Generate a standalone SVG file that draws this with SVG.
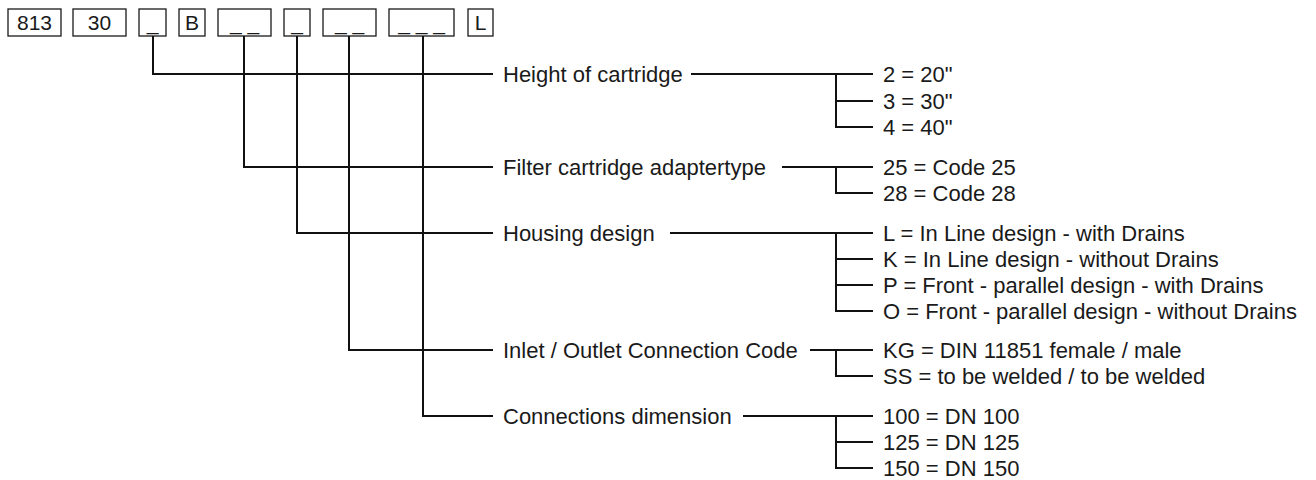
<svg xmlns="http://www.w3.org/2000/svg" width="1316" height="480" viewBox="0 0 1316 480">
<style>
  .box rect{fill:#fff;stroke:#1a1a1a;stroke-width:1.3}
  text{font-family:"Liberation Sans",Arial,sans-serif;fill:#1a1a1a}
  .bt{font-size:21px;text-anchor:middle}
  .lbl{font-size:22px}
  .opt{font-size:22px}
  #connectors path{fill:none;stroke:#111;stroke-width:2}
</style>
<rect width="1316" height="480" fill="#fff"/>
<g id="code">
  <g id="b813" class="box"><rect x="8" y="9" width="53" height="27"/><text class="bt" x="34.5" y="30">813</text></g>
  <g id="b30" class="box"><rect x="73" y="9" width="53" height="27"/><text class="bt" x="99.5" y="30">30</text></g>
  <g id="bh" class="box"><rect x="139" y="9" width="27" height="27"/><text class="bt" x="152.5" y="30">_</text></g>
  <g id="bB" class="box"><rect x="179" y="9" width="26" height="27"/><text class="bt" x="192" y="30">B</text></g>
  <g id="ba" class="box"><rect x="218" y="9" width="53" height="27"/><text class="bt" x="244.5" y="30">_ _</text></g>
  <g id="bhd" class="box"><rect x="284" y="9" width="26" height="27"/><text class="bt" x="297" y="30">_</text></g>
  <g id="bc" class="box"><rect x="323" y="9" width="53" height="27"/><text class="bt" x="349.5" y="30">_ _</text></g>
  <g id="bd" class="box"><rect x="389" y="9" width="65" height="27"/><text class="bt" x="421.5" y="30">_ _ _</text></g>
  <g id="bL" class="box"><rect x="468" y="9" width="25" height="27"/><text class="bt" x="480.5" y="30">L</text></g>
</g>
<g id="connectors">
  <path d="M153 36V74H493"/>
  <path d="M244 36V167H493"/>
  <path d="M297 36V233H493"/>
  <path d="M349 36V350H493"/>
  <path d="M423 36V416H493"/>
  <path d="M691 74H873M836 74V127H873M836 101H873"/>
  <path d="M782 167H873M836 167V193H873"/>
  <path d="M670 233H873M836 233V311H873M836 259H873M836 285H873"/>
  <path d="M810 350H873M836 350V376H873"/>
  <path d="M743 416H873M836 416V468H873M836 442H873"/>
</g>
<g id="height">
  <text class="lbl" x="503" y="82">Height of cartridge</text>
  <text class="opt" x="883" y="82">2 = 20"</text>
  <text class="opt" x="883" y="109">3 = 30"</text>
  <text class="opt" x="883" y="135">4 = 40"</text>
</g>
<g id="adapter">
  <text class="lbl" x="503" y="175">Filter cartridge adaptertype</text>
  <text class="opt" x="883" y="175">25 = Code 25</text>
  <text class="opt" x="883" y="201">28 = Code 28</text>
</g>
<g id="housing">
  <text class="lbl" x="503" y="241">Housing design</text>
  <text class="opt" x="883" y="241">L = In Line design - with Drains</text>
  <text class="opt" x="883" y="267">K = In Line design - without Drains</text>
  <text class="opt" x="883" y="293">P = Front - parallel design - with Drains</text>
  <text class="opt" x="883" y="319">O = Front - parallel design - without Drains</text>
</g>
<g id="connection">
  <text class="lbl" x="503" y="358">Inlet / Outlet Connection Code</text>
  <text class="opt" x="883" y="358">KG = DIN 11851 female / male</text>
  <text class="opt" x="883" y="384">SS = to be welded / to be welded</text>
</g>
<g id="dimension">
  <text class="lbl" x="503" y="424">Connections dimension</text>
  <text class="opt" x="883" y="424">100 = DN 100</text>
  <text class="opt" x="883" y="450">125 = DN 125</text>
  <text class="opt" x="883" y="476">150 = DN 150</text>
</g>
</svg>
